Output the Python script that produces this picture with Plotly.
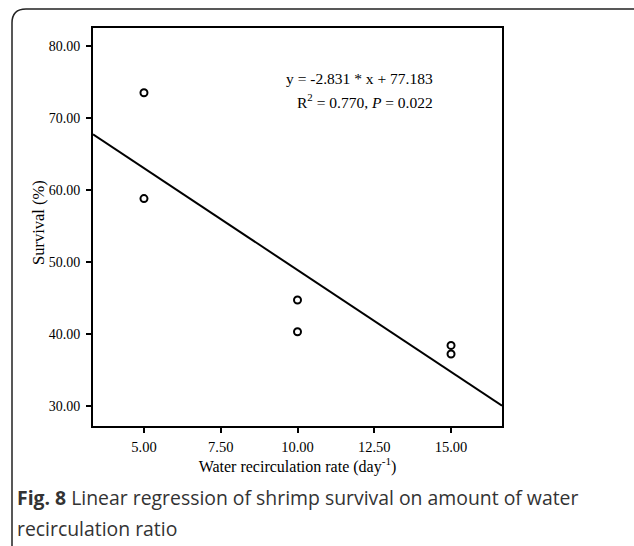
import plotly.graph_objects as go
import numpy as np

# Data
rate = [5, 5, 10, 10, 15, 15]
survival = [73.5, 58.8, 44.7, 40.3, 38.4, 37.2]
slope = -2.831
intercept = 77.183
x_ticks = [5.0, 7.5, 10.0, 12.5, 15.0]
y_ticks = [30, 40, 50, 60, 70, 80]
x_range = [3.34, 16.66]
y_range = [27.2, 82.5]

W, H = 634, 546
ML, MR, MT, MB = 93, 132, 28, 120
PW, PH = W - ML - MR, H - MT - MB

def px(x):
    return (x - ML) / PW

def py(y):
    return 1 - (y - MT) / PH

serif = "Liberation Serif, Times New Roman, serif"

fig = go.Figure()
line_x = np.array(x_range)
fig.add_trace(go.Scatter(x=line_x, y=slope * line_x + intercept, mode="lines",
                         line=dict(color="black", width=2), showlegend=False))
fig.add_trace(go.Scatter(x=rate, y=survival, mode="markers",
                         marker=dict(symbol="circle-open", size=7, color="black",
                                     line=dict(width=2, color="black")),
                         showlegend=False))

# rounded outer border
L, T, R, B, r = 12, 9, 660, 580, 14
path = (f"M {px(L)},{py(B)} L {px(L)},{py(T+r)} Q {px(L)},{py(T)} {px(L+r)},{py(T)} "
        f"L {px(R)},{py(T)}")
fig.add_shape(type="path", xref="paper", yref="paper", path=path,
              line=dict(color="#222", width=1.5))

fig.add_annotation(xref="paper", yref="paper", x=px(435), y=py(79), xanchor="right",
                   yanchor="middle", showarrow=False, align="right",
                   text="y = -2.831 * x + 77.183", font=dict(family=serif, size=15.5, color="black"))
fig.add_annotation(xref="paper", yref="paper", x=px(435), y=py(101), xanchor="right",
                   yanchor="middle", showarrow=False, align="right",
                   text="R<sup>2</sup> = 0.770, <i>P</i> = 0.022", font=dict(family=serif, size=15.5, color="black"))

# y axis title
fig.add_annotation(xref="paper", yref="paper", x=px(38), y=py(222), xanchor="center",
                   yanchor="middle", showarrow=False, textangle=-90,
                   text="Survival (%)", font=dict(family=serif, size=16.5, color="black"))

cap_font = dict(family="Open Sans, sans-serif", size=19.4, color="#333")
fig.add_annotation(xref="paper", yref="paper", x=px(15), y=py(497), xanchor="left",
                   yanchor="middle", showarrow=False, align="left",
                   text="<b>Fig. 8</b> Linear regression of shrimp survival on amount of water",
                   font=cap_font)
fig.add_annotation(xref="paper", yref="paper", x=px(15), y=py(528), xanchor="left",
                   yanchor="middle", showarrow=False, align="left",
                   text="recirculation ratio", font=cap_font)

fig.update_layout(
    width=W, height=H, margin=dict(l=ML, r=MR, t=MT, b=MB),
    plot_bgcolor="white", paper_bgcolor="white",
    xaxis=dict(range=x_range, tickvals=x_ticks, ticktext=[f"{v:.2f}" for v in x_ticks],
               showgrid=False, zeroline=False, showline=True, linecolor="black", linewidth=2,
               mirror=True, ticks="outside", ticklen=5, tickwidth=2, tickcolor="black",
               ticklabelstandoff=2,
               tickfont=dict(family=serif, size=14.5, color="black"),
               title=dict(text="Water recirculation rate (day<sup>-1</sup>)", standoff=4,
                          font=dict(family=serif, size=16, color="black"))),
    yaxis=dict(range=y_range, tickvals=y_ticks, ticktext=[f"{v:.2f}" for v in y_ticks],
               showgrid=False, zeroline=False, showline=True, linecolor="black", linewidth=2,
               mirror=True, ticks="outside", ticklen=5, tickwidth=2, tickcolor="black",
               ticklabelstandoff=3,
               tickfont=dict(family=serif, size=14, color="black")),
)

fig.write_html("out.html")
